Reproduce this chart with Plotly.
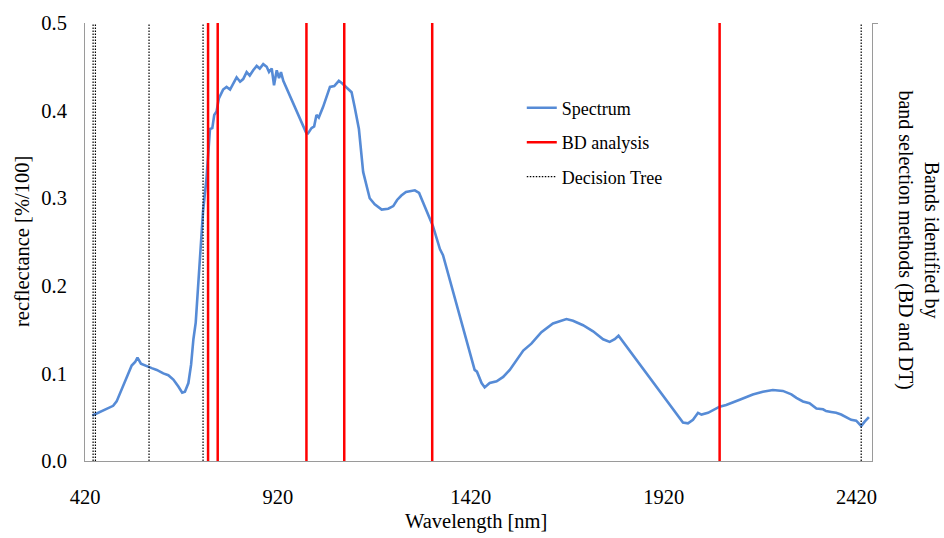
import plotly.graph_objects as go

# ---- data ----
wavelength = [439, 454, 476, 493, 502, 515, 528, 541, 550, 556, 565, 580, 593, 606, 623, 636, 649, 662, 672, 679,
              688, 695, 701, 707, 715, 726, 735, 744, 750, 755, 761, 767, 778, 787, 796, 804, 813, 822, 830, 839,
              847, 856, 865, 873, 882, 891, 897, 904, 910, 917, 923, 928, 934, 994, 998, 1007, 1014, 1020, 1026,
              1037, 1055, 1066, 1078, 1087, 1098, 1111, 1119, 1130, 1141, 1150, 1158, 1171, 1189, 1206, 1219, 1229,
              1240, 1252, 1262, 1275, 1286, 1296, 1309, 1322, 1340, 1348, 1430, 1436, 1448, 1456, 1469, 1487, 1504,
              1521, 1556, 1577, 1603, 1633, 1668, 1685, 1711, 1737, 1763, 1780, 1793, 1803, 1970, 1983, 1996, 2009,
              2018, 2035, 2065, 2082, 2117, 2151, 2177, 2203, 2229, 2251, 2264, 2281, 2298, 2316, 2333, 2341, 2354,
              2367, 2380, 2393, 2406, 2419, 2432, 2441, 2452]
reflectance = [0.052, 0.055, 0.060, 0.063, 0.068, 0.081, 0.096, 0.109, 0.113, 0.118, 0.111, 0.108, 0.106, 0.104,
               0.100, 0.098, 0.093, 0.085, 0.078, 0.079, 0.089, 0.110, 0.139, 0.158, 0.214, 0.285, 0.323, 0.379,
               0.380, 0.395, 0.399, 0.414, 0.424, 0.427, 0.424, 0.431, 0.438, 0.433, 0.436, 0.444, 0.440, 0.446,
               0.451, 0.448, 0.453, 0.450, 0.444, 0.448, 0.429, 0.446, 0.437, 0.444, 0.434, 0.374, 0.374, 0.380,
               0.382, 0.395, 0.392, 0.404, 0.427, 0.428, 0.434, 0.431, 0.426, 0.421, 0.404, 0.379, 0.330, 0.313,
               0.300, 0.293, 0.287, 0.288, 0.291, 0.298, 0.303, 0.307, 0.308, 0.309, 0.306, 0.296, 0.283, 0.268,
               0.242, 0.235, 0.104, 0.102, 0.089, 0.084, 0.089, 0.091, 0.096, 0.104, 0.126, 0.134, 0.147, 0.157,
               0.162, 0.160, 0.155, 0.148, 0.139, 0.136, 0.139, 0.143, 0.044, 0.043, 0.047, 0.055, 0.053, 0.055,
               0.062, 0.064, 0.070, 0.076, 0.079, 0.081, 0.080, 0.076, 0.072, 0.068, 0.066, 0.060, 0.059, 0.057,
               0.056, 0.055, 0.053, 0.050, 0.047, 0.046, 0.040, 0.045, 0.050]
bd_bands = [739, 764, 994, 1092, 1320, 2065]
dt_bands = [441, 447, 586, 726, 2432]
x_ticks = [420, 920, 1420, 1920, 2420]
y_ticks = [0.0, 0.1, 0.2, 0.3, 0.4, 0.5]
y_max = 0.5


def vlines(bands):
    xs, ys = [], []
    for b in bands:
        xs += [b, b, None]
        ys += [0, y_max, None]
    return xs, ys


FONT = '"Liberation Serif", "Times New Roman", "DejaVu Serif", serif'

fig = go.Figure()
fig.add_trace(go.Scatter(x=wavelength, y=reflectance, mode="lines", name="Spectrum",
                         legendgroup="a", line=dict(color="#568BD6", width=2.6)))
bx, by = vlines(bd_bands)
fig.add_trace(go.Scatter(x=bx, y=by, mode="lines", name="BD analysis", legendgroup="b",
                         line=dict(color="#FF0000", width=2.5)))
dx, dy = vlines(dt_bands)
fig.add_trace(go.Scatter(x=dx, y=dy, mode="lines", name="Decision Tree", legendgroup="c",
                         line=dict(color="#000000", width=1.2, dash="1.5px,1.5px")))
# secondary axis (no labels)
fig.add_trace(go.Scatter(x=[None], y=[None], yaxis="y2", showlegend=False, hoverinfo="skip"))

fig.update_layout(
    width=944, height=538,
    margin=dict(l=85, r=72, t=15, b=77),
    paper_bgcolor="white", plot_bgcolor="white",
    font=dict(family=FONT, size=19, color="#000000"),
    showlegend=True,
    legend=dict(x=0.555, y=0.848, xanchor="left", yanchor="top", bgcolor="rgba(255,255,255,1)",
                font=dict(family=FONT, size=18, color="#000000"), tracegroupgap=8,
                traceorder="grouped", itemwidth=30),
    xaxis=dict(range=[420, 2460], tickvals=x_ticks, ticktext=[str(v) for v in x_ticks],
               showgrid=False, zeroline=False, showline=True, linecolor="#9A9A9A", linewidth=1,
               ticks="", ticklabelstandoff=17, tickfont=dict(family=FONT, size=20.5)),
    yaxis=dict(range=[0, y_max], tickvals=y_ticks, ticktext=[f"{v:.1f}" for v in y_ticks],
               showgrid=False, zeroline=False, showline=True, linecolor="#9A9A9A", linewidth=1,
               ticks="", ticklabelstandoff=13, tickfont=dict(family=FONT, size=20.5)),
    yaxis2=dict(overlaying="y", side="right", range=[0, 1], tickvals=[1], showticklabels=False,
                ticks="outside", ticklen=5, tickcolor="#9A9A9A", showgrid=False, zeroline=False,
                showline=True, linecolor="#9A9A9A", linewidth=1),
    annotations=[
        dict(text="Wavelength [nm]", xref="paper", yref="paper", x=0.497, y=-0.139,
             showarrow=False, font=dict(family=FONT, size=20.5), xanchor="center", yanchor="middle"),
        dict(text="recflectance [%/100]", xref="paper", yref="paper", x=-0.080, y=0.5,
             showarrow=False, textangle=-90, font=dict(family=FONT, size=20.5), xanchor="center",
             yanchor="middle"),
        dict(text="Bands identified by<br>band selection methods (BD and DT)", xref="paper", yref="paper",
             x=1.059, y=0.505, showarrow=False, textangle=90, font=dict(family=FONT, size=20),
             xanchor="center", yanchor="middle"),
    ],
)

fig.write_html("out.html")
